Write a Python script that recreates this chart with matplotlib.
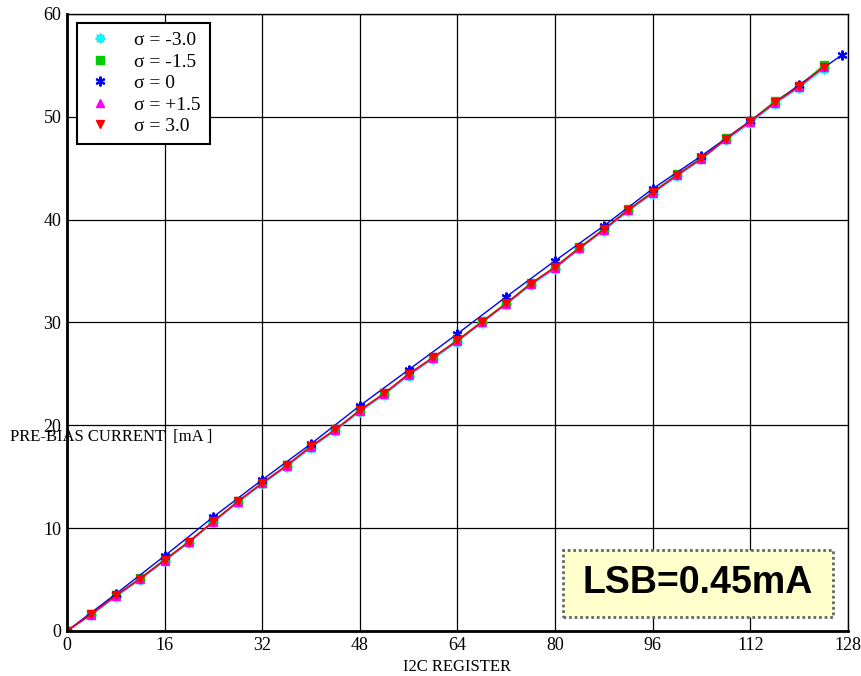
import matplotlib
matplotlib.use("Agg")
import matplotlib.pyplot as plt
from matplotlib.patches import FancyBboxPatch

# register codes and measured pre-bias current [mA]
reg_4 = list(range(0, 128, 4))
reg_8 = list(range(0, 128, 8)) + [127]

i_m30 = [0, 1.55, 3.3, 5.0, 6.8, 8.55, 10.6, 12.45, 14.25, 15.95, 17.8, 19.45, 21.3, 22.95, 24.8, 26.45,
         28.1, 29.95, 31.75, 33.6, 35.2, 37.15, 38.9, 40.8, 42.5, 44.2, 45.85, 47.7, 49.35, 51.25, 52.8, 54.6]
i_m15 = [0, 1.65, 3.45, 5.15, 6.95, 8.7, 10.7, 12.6, 14.4, 16.1, 18.0, 19.6, 21.5, 23.1, 25.0, 26.6,
         28.3, 30.1, 31.9, 33.8, 35.4, 37.3, 39.1, 41.0, 42.7, 44.4, 46.0, 47.9, 49.6, 51.5, 53.0, 55.0]
i_0 = [0, 3.6, 7.3, 11.1, 14.7, 18.2, 21.9, 25.4, 28.9, 32.5, 36.0, 39.4, 43.0, 46.2, 49.6, 53.1, 56.0]
i_p15 = [0, 1.6, 3.4, 5.05, 6.85, 8.65, 10.6, 12.55, 14.35, 16.05, 17.9, 19.55, 21.4, 23.05, 24.9, 26.55,
         28.2, 30.0, 31.8, 33.7, 35.3, 37.2, 39.0, 40.9, 42.6, 44.3, 45.9, 47.8, 49.5, 51.35, 52.9, 54.8]
i_p30 = [0, 1.65, 3.45, 5.1, 6.9, 8.7, 10.65, 12.6, 14.4, 16.1, 17.95, 19.6, 21.45, 23.1, 25.0, 26.6,
         28.25, 30.05, 31.85, 33.75, 35.4, 37.25, 39.05, 40.95, 42.65, 44.35, 45.95, 47.85, 49.55, 51.4, 52.95, 54.85]

x_ticks = [0, 16, 32, 48, 64, 80, 96, 112, 128]
y_ticks = [0, 10, 20, 30, 40, 50, 60]

serif = ["Liberation Serif", "DejaVu Serif"]
plt.rcParams["font.family"] = serif

fig = plt.figure(figsize=(8.61, 6.76), dpi=100)
ax = fig.add_axes([0.0778, 0.0666, 0.907, 0.9128])

ax.plot(reg_4, i_m30, color="cyan", lw=1.0, marker=(8, 2, 0), ms=7, mew=1.5, label="σ = -3.0")
ax.plot(reg_4, i_m15, color="#00cc00", lw=1.0, marker="s", ms=6, label="σ = -1.5")
ax.plot(reg_8, i_0, color="blue", lw=1.0, marker=(6, 2, 0), ms=7, mew=1.5, label="σ = 0")
ax.plot(reg_4, i_p15, color="magenta", lw=1.0, marker="^", ms=6, label="σ = +1.5")
ax.plot(reg_4, i_p30, color="red", lw=1.0, marker="v", ms=6, label="σ = 3.0")

ax.set_xlim(0, 128)
ax.set_ylim(0, 60)
ax.set_xticks(x_ticks)
ax.set_yticks(y_ticks)
ax.grid(True, color="black", lw=0.9)
ax.tick_params(labelsize=13, length=0, pad=4)
for s in ["left", "bottom"]:
    ax.spines[s].set_linewidth(2)
for s in ["top", "right"]:
    ax.spines[s].set_linewidth(1)

ax.set_xlabel("I2C REGISTER", fontsize=12, labelpad=4)
fig.text(0.012, 0.353, "PRE-BIAS CURRENT  [mA ]", fontsize=12, va="center", ha="left")

leg = ax.legend(loc="upper left", bbox_to_anchor=(0.0128, 0.9854), fontsize=14, frameon=True,
                fancybox=False, edgecolor="black", framealpha=1, handletextpad=1.0,
                borderpad=0.45, labelspacing=0.2, handlelength=1.5, borderaxespad=0)
leg.get_frame().set_linewidth(1.5)
for line in leg.get_lines():
    line.set_linestyle("")

# annotation box with the LSB value
box = FancyBboxPatch((0.654, 0.0873), 0.3136, 0.099, boxstyle="square,pad=0",
                     transform=fig.transFigure, facecolor="#ffffcc", edgecolor="#666666",
                     linestyle=(0, (1, 1)), lw=2, zorder=5)
fig.patches.append(box)
fig.text(0.8107, 0.137, "LSB=0.45mA", fontsize=27, fontweight="bold", family="Liberation Sans",
         ha="center", va="center", zorder=6)

fig.savefig("out.png", dpi=100)
